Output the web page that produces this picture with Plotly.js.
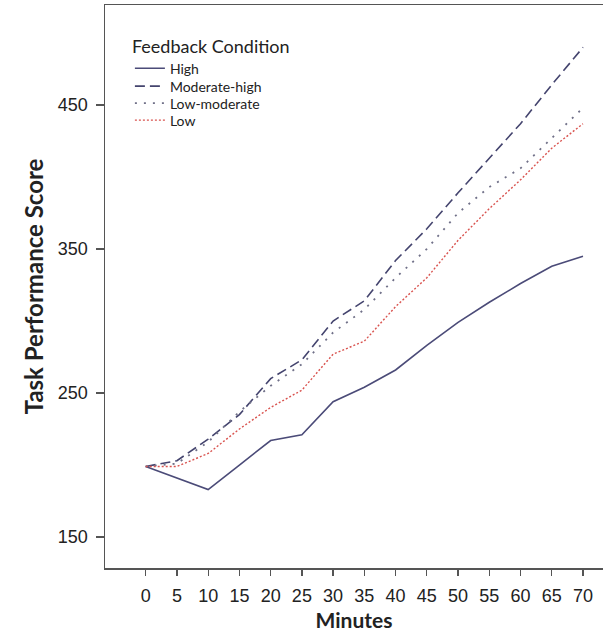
<!DOCTYPE html>
<html>
<head>
<meta charset="utf-8">
<script src="https://cdn.plot.ly/plotly-3.0.1.min.js"></script>
<style>html,body{margin:0;padding:0;background:#fff;}#chart{width:603px;height:635px;}</style>
</head>
<body>
<div id="chart"></div>
<script>
const minutes = [0, 5, 10, 15, 20, 25, 30, 35, 40, 45, 50, 55, 60, 65, 70];
const high = [199, 191, 183, 200, 217, 221, 244, 254, 266, 283, 299, 313, 326, 338, 345];
const moderateHigh = [199, 203, 218, 235, 260, 273, 300, 314, 342, 364, 389, 413, 437, 464, 490];
const lowModerate = [199, 201, 216, 237, 255, 270, 292, 308, 330, 350, 375, 393, 406, 427, 448];
const low = [199, 199, 208, 225, 240, 252, 277, 286, 310, 330, 356, 378, 398, 420, 437];
const seriesNames = ['High', 'Moderate-high', 'Low-moderate', 'Low'];
const yTicks = [150, 250, 350, 450];

const traces = [
  {x: minutes, y: high, name: seriesNames[0], mode: 'lines', legend: 'legend',
   line: {color: '#4b4b78', width: 1.6, dash: 'solid'}},
  {x: minutes, y: moderateHigh, name: seriesNames[1], mode: 'lines', legend: 'legend2',
   line: {color: '#44446e', width: 1.6, dash: '10px,5px'}},
  {x: minutes, y: lowModerate, name: seriesNames[2], mode: 'lines', legend: 'legend3',
   line: {color: '#707088', width: 1.8, dash: '2px,7px'}},
  {x: minutes, y: low, name: seriesNames[3], mode: 'lines', legend: 'legend4',
   line: {color: '#d9534f', width: 1.4, dash: '2px,2px'}}
];

const legFont = {family: 'Lato, sans-serif', size: 14, color: '#222'};
function legendAt(yPaper, anchor) {
  return {x: 0.05, y: yPaper, xanchor: 'left', yanchor: anchor,
          bgcolor: 'rgba(0,0,0,0)', borderwidth: 0, font: legFont, itemwidth: 30};
}

const layout = {
  width: 603, height: 635,
  margin: {l: 105, r: 0, t: 5, b: 67},
  paper_bgcolor: '#fff', plot_bgcolor: '#fff',
  font: {family: 'Liberation Sans, Arial, sans-serif', color: '#222'},
  showlegend: true,
  legend: Object.assign(legendAt(0.957, 'top'), {
    title: {text: 'Feedback Condition', side: 'top', font: {family: 'Lato, sans-serif', size: 18, color: '#222'}}
  }),
  legend2: legendAt((568 - 86.5) / 563, 'middle'),
  legend3: legendAt((568 - 103.5) / 563, 'middle'),
  legend4: legendAt((568 - 120.5) / 563, 'middle'),
  xaxis: {
    range: [-6.515, 73.2],
    tickmode: 'array', tickvals: minutes, ticktext: minutes.map(String),
    showgrid: false, zeroline: false,
    showline: true, linecolor: '#555', linewidth: 1.5, mirror: true,
    ticks: 'outside', ticklen: 6, tickwidth: 1.3, tickcolor: '#555',
    ticklabelstandoff: 5,
    tickfont: {family: 'Liberation Sans, Arial, sans-serif', size: 18, color: '#222'},
    title: {text: '<b>Minutes</b>', font: {family: 'Lato, sans-serif', size: 21, color: '#222'}, standoff: 8}
  },
  yaxis: {
    range: [128.5, 519.4],
    tickmode: 'array', tickvals: yTicks, ticktext: yTicks.map(String),
    showgrid: false, zeroline: false,
    showline: true, linecolor: '#555', linewidth: 1.5, mirror: false,
    ticks: 'outside', ticklen: 8, tickwidth: 1.3, tickcolor: '#555',
    ticklabelstandoff: 4,
    tickfont: {family: 'Liberation Sans, Arial, sans-serif', size: 18, color: '#222'},
    title: {text: '<b>Task Performance Score</b>', font: {family: 'Lato, sans-serif', size: 24, color: '#222'}, standoff: 7}
  }
};

Plotly.newPlot('chart', traces, layout, {displayModeBar: false, staticPlot: true});
</script>
</body>
</html>
